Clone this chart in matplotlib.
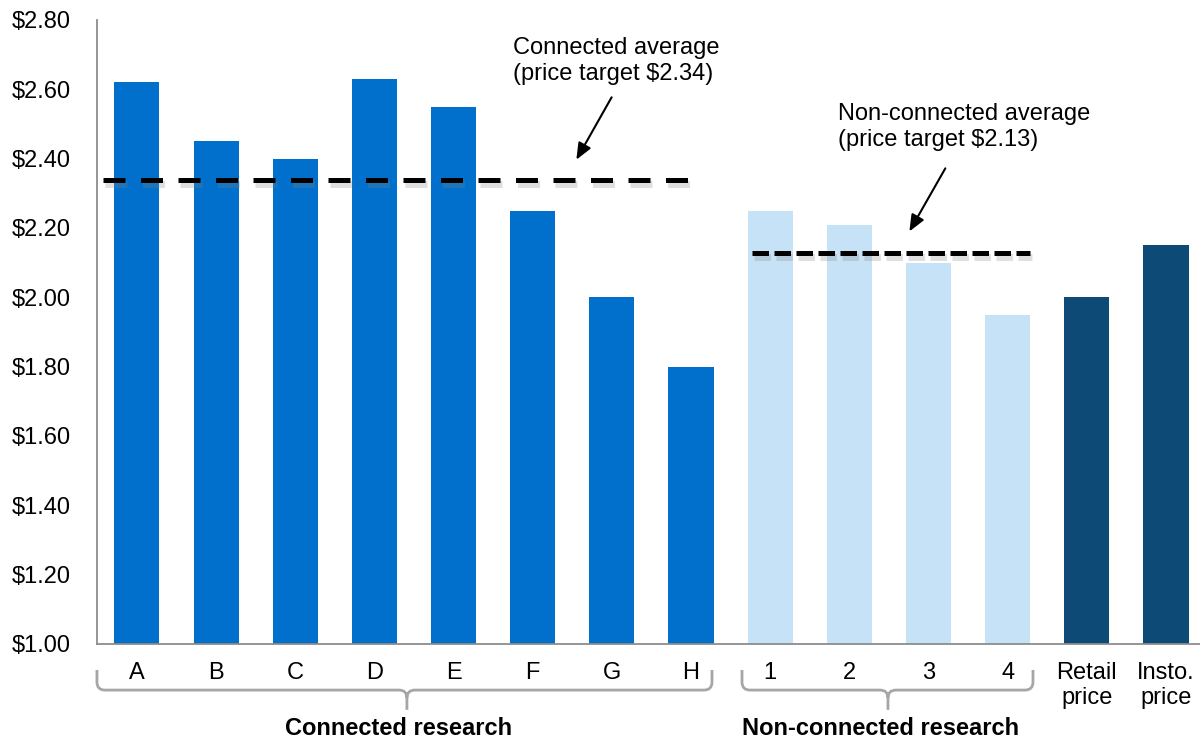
import numpy as np
import matplotlib.pyplot as plt
import matplotlib.patheffects as pe
from matplotlib.path import Path
from matplotlib.patches import PathPatch

plt.rcParams['font.family'] = ['Liberation Sans', 'DejaVu Sans']

connected_labels = ['A', 'B', 'C', 'D', 'E', 'F', 'G', 'H']
connected_values = [2.62, 2.45, 2.40, 2.63, 2.55, 2.25, 2.00, 1.80]
nonconn_labels = ['1', '2', '3', '4']
nonconn_values = [2.25, 2.21, 2.10, 1.95]
price_labels = ['Retail\nprice', 'Insto.\nprice']
price_values = [2.00, 2.15]

c_conn = '#0070CC'
c_non = '#C5E2F7'
c_price = '#0D4A75'
grey = '#8C8C8C'

labels = connected_labels + nonconn_labels + price_labels
values = connected_values + nonconn_values + price_values
colors = [c_conn] * len(connected_values) + [c_non] * len(nonconn_values) + [c_price] * len(price_values)
x = np.arange(len(values))

fig = plt.figure(figsize=(12, 7.38), dpi=100)
ax = fig.add_axes([0.0808, 0.1274, 0.9192, 0.8455])

ax.bar(x, np.array(values) - 1.0, bottom=1.0, width=0.57, color=colors, zorder=2)

ax.set_xlim(-0.505, 13.43)
ax.set_ylim(1.0, 2.8)
yt = np.arange(1.0, 2.81, 0.2)
ax.set_yticks(yt)
ax.set_yticklabels(['$%.2f' % v for v in yt], fontsize=17)
ax.set_xticks(x)
ax.set_xticklabels(labels, fontsize=17, linespacing=1.2)
ax.tick_params(axis='y', length=0, pad=19)
ax.tick_params(axis='x', length=0, pad=13)
for s in ['top', 'right']:
    ax.spines[s].set_visible(False)
for s in ['left', 'bottom']:
    ax.spines[s].set_color(grey)
    ax.spines[s].set_linewidth(1.3)

# average lines with a soft shadow
conn_avg = np.mean(connected_values)
non_avg = np.mean(nonconn_values)
shadow = [pe.SimpleLineShadow(offset=(1.5, -3), shadow_color='#808080', alpha=0.25, linewidth=5),
          pe.Normal()]
l1, = ax.plot([-0.43, 7.08], [conn_avg, conn_avg], color='black', lw=3.6, zorder=3,
              dashes=(4.4, 3.1), path_effects=shadow)
l1.set_dash_capstyle('butt')
l2, = ax.plot([7.77, 11.28], [non_avg, non_avg], color='black', lw=3.6, zorder=3,
              dashes=(3.3, 1.1), path_effects=shadow)
l2.set_dash_capstyle('butt')

arrow = dict(arrowstyle='-|>,head_length=1.0,head_width=0.42', color='black', lw=1.5)
ax.text(4.75, 2.75, 'Connected average\n(price target $%.2f)' % conn_avg, fontsize=17,
        ha='left', va='top', linespacing=1.2)
ax.annotate('', xy=(5.534, 2.39), xytext=(6.014, 2.584), arrowprops=arrow)
ax.text(8.857, 2.56, 'Non-connected average\n(price target $%.2f)' % non_avg, fontsize=17,
        ha='left', va='top', linespacing=1.2)
ax.annotate('', xy=(9.741, 2.183), xytext=(10.23, 2.379), arrowprops=arrow)


def brace(x0, x1, xc, yt, ym, yb):
    rx = 8 / 79.15
    ry = 8 / 346.67
    verts = [(x0, yt), (x0, ym + ry), (x0, ym), (x0 + rx, ym), (xc - rx, ym), (xc, ym), (xc, ym - ry), (xc, yb),
             (x1, yt), (x1, ym + ry), (x1, ym), (x1 - rx, ym), (xc + rx, ym), (xc, ym), (xc, ym - ry)]
    codes = [Path.MOVETO, Path.LINETO, Path.CURVE3, Path.CURVE3, Path.LINETO, Path.CURVE3, Path.CURVE3, Path.LINETO,
             Path.MOVETO, Path.LINETO, Path.CURVE3, Path.CURVE3, Path.LINETO, Path.CURVE3, Path.CURVE3]
    ax.add_patch(PathPatch(Path(verts, codes), facecolor='none', edgecolor='#A6A6A6', lw=2, clip_on=False))


brace(-0.505, 7.265, 3.411, 0.925, 0.867, 0.810)
brace(7.644, 11.32, 9.488, 0.925, 0.867, 0.810)

ax.text(3.30, 0.7375, 'Connected research', fontsize=17, fontweight='bold', ha='center', va='baseline')
ax.text(9.40, 0.7375, 'Non-connected research', fontsize=17, fontweight='bold', ha='center', va='baseline')

fig.savefig('out.png', dpi=100)
